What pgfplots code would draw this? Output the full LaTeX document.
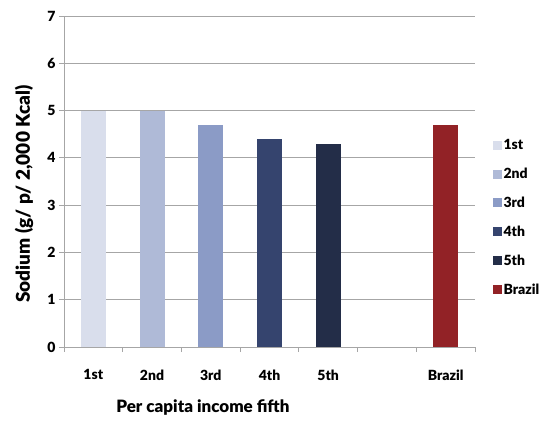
\documentclass[border=0pt]{standalone}
\usepackage{pgfplots}
\pgfplotsset{compat=1.18}
\usepackage{fontspec}
\setmainfont{Lato}[BoldFont={Lato Black}]
\definecolor{q1}{HTML}{D9DEEC}
\definecolor{q2}{HTML}{AFBAD7}
\definecolor{q3}{HTML}{8B9BC6}
\definecolor{q4}{HTML}{35446E}
\definecolor{q5}{HTML}{232D48}
\definecolor{br}{HTML}{922226}
\definecolor{gridgray}{HTML}{A6A6A6}
\begin{document}
\begin{tikzpicture}
\begin{axis}[
  scale only axis,
  width=411bp, height=331bp,
  xmin=0.5, xmax=7.5, ymin=0, ymax=7,
  axis x line=bottom, axis y line=left,
  axis line style={gridgray, line width=1pt, -},
  xtick={1,2,3,4,5,7},
  xticklabels={1st,2nd,3rd,4th,5th,Brazil},
  minor xtick={0.5,1.5,...,7.5},
  major x tick style={draw=none},
  minor x tick style={gridgray, line width=1pt},
  minor tick length=5bp,
  ytick={0,...,7},
  ymajorgrids,
  major grid style={gridgray, line width=0.8pt},
  major y tick style={gridgray, line width=1pt},
  major tick length=5bp,
  tick align=outside,
  tick label style={font=\fontsize{14bp}{16bp}\selectfont\bfseries, text=black},
  /pgf/number format/assume math mode=true,
  xticklabel style={yshift=-14bp},
  xlabel={Per capita income fifth},
  xlabel style={font=\fontsize{17bp}{19bp}\selectfont\bfseries, at={(axis description cs:0.338,-0.184)}, anchor=center},
  ylabel={Sodium (g/ p/ 2,000 Kcal)},
  ylabel style={font=\fontsize{19bp}{21bp}\selectfont\bfseries, at={(axis description cs:-0.097,0.462)}, anchor=center},
  legend style={draw=none, fill=none, at={(axis description cs:1.035,0.640)}, anchor=north west,
    font=\fontsize{14bp}{16bp}\selectfont\bfseries, row sep=13bp, cells={anchor=west}},
  legend image code/.code={\fill[#1] (0bp,-4.5bp) rectangle (9bp,4.5bp);},
  every axis plot/.append style={ybar, bar width=25bp, bar shift=0pt, draw=none},
]
\addplot[fill=q1] coordinates {(1,5.0)}; \addlegendentry{1st}
\addplot[fill=q2] coordinates {(2,5.0)}; \addlegendentry{2nd}
\addplot[fill=q3] coordinates {(3,4.7)}; \addlegendentry{3rd}
\addplot[fill=q4] coordinates {(4,4.4)}; \addlegendentry{4th}
\addplot[fill=q5] coordinates {(5,4.3)}; \addlegendentry{5th}
\addplot[fill=br] coordinates {(7,4.7)}; \addlegendentry{Brazil}
\end{axis}
\path (current axis.south west) ++(-64bp,-74bp) rectangle ++(545bp,421bp);
\end{tikzpicture}
\end{document}
